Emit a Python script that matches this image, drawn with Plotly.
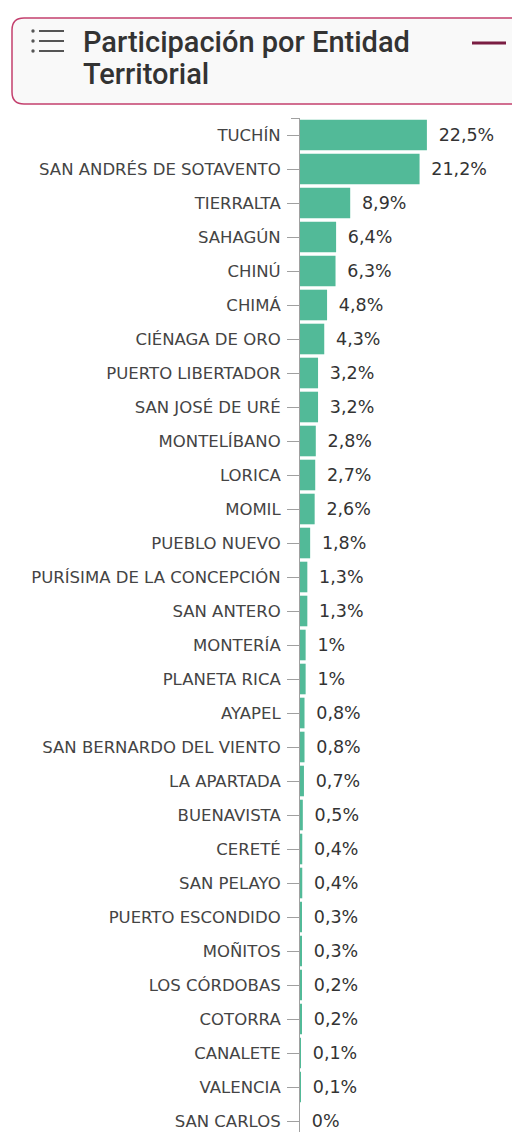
import plotly.graph_objects as go

categories = [
    "TUCHÍN", "SAN ANDRÉS DE SOTAVENTO", "TIERRALTA", "SAHAGÚN", "CHINÚ", "CHIMÁ",
    "CIÉNAGA DE ORO", "PUERTO LIBERTADOR", "SAN JOSÉ DE URÉ", "MONTELÍBANO", "LORICA",
    "MOMIL", "PUEBLO NUEVO", "PURÍSIMA DE LA CONCEPCIÓN", "SAN ANTERO", "MONTERÍA",
    "PLANETA RICA", "AYAPEL", "SAN BERNARDO DEL VIENTO", "LA APARTADA", "BUENAVISTA",
    "CERETÉ", "SAN PELAYO", "PUERTO ESCONDIDO", "MOÑITOS", "LOS CÓRDOBAS", "COTORRA",
    "CANALETE", "VALENCIA", "SAN CARLOS",
]
values = [
    22.5, 21.2, 8.9, 6.4, 6.3, 4.8, 4.3, 3.2, 3.2, 2.8, 2.7, 2.6, 1.8, 1.3, 1.3,
    1, 1, 0.8, 0.8, 0.7, 0.5, 0.4, 0.4, 0.3, 0.3, 0.2, 0.2, 0.1, 0.1, 0,
]
title_lines = ["Participación por Entidad", "Territorial"]

labels = ["\u2002" + f"{v:g}".replace(".", ",") + "%" for v in values]

W, H = 512, 1132
PL, PR, PT, PB = 300, 512, 118, 1132


def px(x):
    return (x - PL) / (PR - PL)


def py(y):
    return 1 - (y - PT) / (PB - PT)


fig = go.Figure(
    go.Bar(
        x=values,
        y=categories,
        orientation="h",
        marker=dict(color="#52BA98", line=dict(width=0)),
        text=labels,
        textposition="outside",
        cliponaxis=False,
        textfont=dict(family="DejaVu Sans", size=17.5, color="#333333"),
        hoverinfo="skip",
    )
)

shapes = []
r = 12
L, T, R, B = 12, 18, 560, 104
path = (
    f"M {px(L + r)},{py(T)} L {px(R)},{py(T)} L {px(R)},{py(B)} L {px(L + r)},{py(B)} "
    f"Q {px(L)},{py(B)} {px(L)},{py(B - r)} L {px(L)},{py(T + r)} "
    f"Q {px(L)},{py(T)} {px(L + r)},{py(T)} Z"
)
shapes.append(dict(type="path", xref="paper", yref="paper", path=path,
                   fillcolor="#F9F9F9", line=dict(color="#C4406E", width=1.5), layer="below"))
for yy in (31, 41, 51):
    shapes.append(dict(type="circle", xref="paper", yref="paper",
                       x0=px(31.3), x1=px(34.7), y0=py(yy - 1.7), y1=py(yy + 1.7),
                       fillcolor="#555555", line=dict(width=0)))
    shapes.append(dict(type="line", xref="paper", yref="paper",
                       x0=px(39), x1=px(64), y0=py(yy), y1=py(yy),
                       line=dict(color="#555555", width=2)))
shapes.append(dict(type="line", xref="paper", yref="paper",
                   x0=px(472), x1=px(506), y0=py(43), y1=py(43),
                   line=dict(color="#7A1D42", width=3)))
shapes.append(dict(type="line", xref="paper", yref="paper",
                   x0=px(291), x1=px(300), y0=py(118.5), y1=py(118.5),
                   line=dict(color="#A0A0A0", width=1)))

annotations = [
    dict(text=title_lines[0], xref="paper", yref="paper", x=px(81), y=py(42),
         xanchor="left", yanchor="middle", showarrow=False,
         font=dict(family="Roboto", size=29, color="#333333", weight=500)),
    dict(text=title_lines[1], xref="paper", yref="paper", x=px(81), y=py(74),
         xanchor="left", yanchor="middle", showarrow=False,
         font=dict(family="Roboto", size=29, color="#333333", weight=500)),
]

fig.update_layout(
    width=W, height=H,
    margin=dict(l=PL, r=W - PR, t=PT, b=H - PB, pad=0),
    paper_bgcolor="white", plot_bgcolor="white",
    separators=",.",
    bargap=0.1,
    showlegend=False,
    shapes=shapes,
    annotations=annotations,
    xaxis=dict(range=[0, (PR - PL) / 5.64], visible=False, showgrid=False, zeroline=False),
    yaxis=dict(
        range=[-0.5 + (PB - PT) / 34.0, -0.5],
        tickmode="array", tickvals=categories, ticktext=categories,
        ticks="outside", ticklen=12, tickcolor="#A0A0A0", tickwidth=1,
        ticklabelstandoff=3,
        showline=True, linecolor="#A0A0A0", linewidth=1,
        showgrid=False, zeroline=False,
        tickfont=dict(family="DejaVu Sans", size=16.5, color="#444444"),
        automargin=False,
    ),
)

fig.write_html(
    "out.html",
    config={"displayModeBar": False},
    default_width=f"{W}px",
    default_height=f"{H}px",
    post_script="document.body.style.margin='0';document.documentElement.style.overflow='hidden';",
)
